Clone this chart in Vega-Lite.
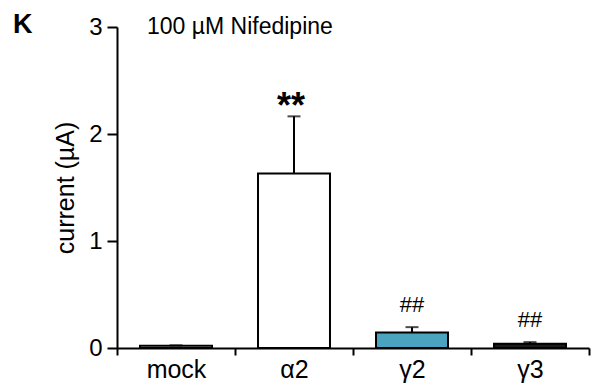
{
  "$schema": "https://vega.github.io/schema/vega-lite/v6.json",
  "autosize": "none",
  "width": 472,
  "height": 321,
  "padding": {"left": 117, "top": 27, "right": 2, "bottom": 37},
  "background": "white",
  "config": {
    "view": {"stroke": null},
    "font": "Liberation Sans",
    "axis": {"grid": false, "domainColor": "black", "tickColor": "black", "labelColor": "black", "titleColor": "black", "domainWidth": 2, "tickWidth": 2, "labelFont": "Liberation Sans", "titleFont": "Liberation Sans"}
  },
  "datasets": {
    "bars": [
      {"group": "mock", "mean": 0.02, "upper": 0.025, "sig": ""},
      {"group": "α2", "mean": 1.63, "upper": 2.165, "sig": "**"},
      {"group": "γ2", "mean": 0.145, "upper": 0.195, "sig": "##"},
      {"group": "γ3", "mean": 0.04, "upper": 0.055, "sig": "##"}
    ],
    "notes": [
      {"group": "mock", "value": 3, "text": "100 µM Nifedipine"}
    ],
    "panel": [
      {"group": "mock", "value": 3, "text": "K"}
    ]
  },
  "encoding": {
    "x": {
      "field": "group", "type": "nominal",
      "scale": {"domain": ["mock", "α2", "γ2", "γ3"], "paddingInner": 0, "paddingOuter": 0},
      "axis": {"title": null, "labelAngle": 0, "tickBand": "extent", "tickSize": 7, "labelFontSize": 25, "labelPadding": 2}
    }
  },
  "layer": [
    {
      "data": {"name": "bars"},
      "mark": {"type": "bar", "width": {"band": 0.61}, "stroke": "black", "strokeWidth": 2},
      "encoding": {
        "y": {
          "field": "mean", "type": "quantitative",
          "scale": {"domain": [0, 3], "nice": false},
          "axis": {"values": [0, 1, 2, 3], "format": "d", "title": "current (µA)", "titleFontSize": 25, "titleFontWeight": "normal", "titlePadding": 10, "labelFontSize": 24, "tickSize": 10, "labelPadding": 5}
        },
        "fill": {
          "field": "group", "type": "nominal",
          "scale": {"domain": ["mock", "α2", "γ2", "γ3"], "range": ["#ffffff", "#ffffff", "#4aa3bf", "#1a1a1a"]},
          "legend": null
        }
      }
    },
    {
      "data": {"name": "bars"},
      "mark": {"type": "rule", "color": "black", "strokeWidth": 2},
      "encoding": {
        "y": {"field": "mean", "type": "quantitative"},
        "y2": {"field": "upper"}
      }
    },
    {
      "data": {"name": "bars"},
      "mark": {"type": "tick", "color": "black", "size": 13, "thickness": 2},
      "encoding": {
        "y": {"field": "upper", "type": "quantitative"}
      }
    },
    {
      "data": {"name": "bars"},
      "transform": [{"filter": "datum.sig == '**'"}],
      "mark": {"type": "text", "fontSize": 36, "fontWeight": "bold", "color": "black", "baseline": "alphabetic", "dx": -3, "dy": 2},
      "encoding": {
        "y": {"field": "upper", "type": "quantitative"},
        "text": {"field": "sig"}
      }
    },
    {
      "data": {"name": "bars"},
      "transform": [{"filter": "datum.sig == '##'"}],
      "mark": {"type": "text", "fontSize": 22, "color": "black", "baseline": "alphabetic", "dy": -15},
      "encoding": {
        "y": {"field": "upper", "type": "quantitative"},
        "text": {"field": "sig"}
      }
    },
    {
      "data": {"name": "notes"},
      "mark": {"type": "text", "fontSize": 23, "color": "black", "align": "left", "baseline": "alphabetic", "dx": 30, "dy": 7},
      "encoding": {
        "x": {"field": "group", "type": "nominal", "bandPosition": 0},
        "y": {"field": "value", "type": "quantitative"},
        "text": {"field": "text"}
      }
    },
    {
      "data": {"name": "panel"},
      "mark": {"type": "text", "fontSize": 27, "fontWeight": "bold", "color": "black", "align": "left", "baseline": "alphabetic", "dx": -104, "dy": 6},
      "encoding": {
        "x": {"field": "group", "type": "nominal", "bandPosition": 0},
        "y": {"field": "value", "type": "quantitative"},
        "text": {"field": "text"}
      }
    }
  ]
}
